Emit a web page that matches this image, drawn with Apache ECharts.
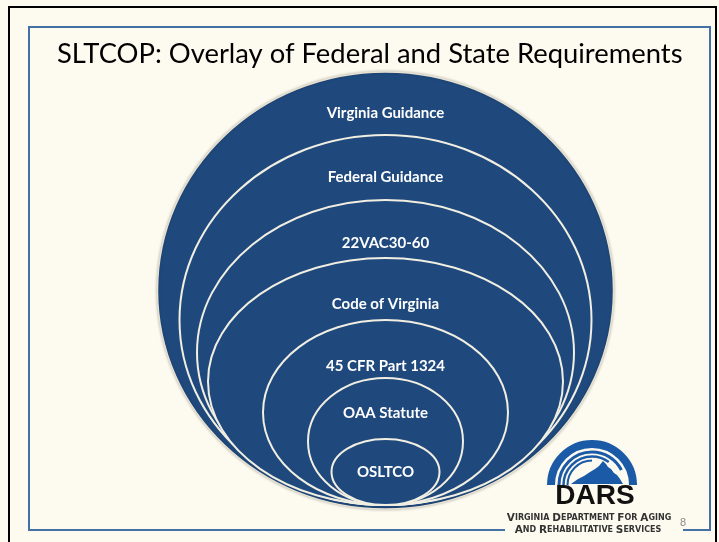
<!DOCTYPE html>
<html><head><meta charset="utf-8">
<script src="https://cdn.jsdelivr.net/npm/echarts@6/dist/echarts.min.js"></script>
<style>html,body{margin:0;padding:0;background:#fdfbef}#c{width:719px;height:542px}</style>
</head><body><div id="c"></div>
<script>
const title = 'SLTCOP: Overlay of Federal and State Requirements';
const rings = ['Virginia Guidance', 'Federal Guidance', '22VAC30-60', 'Code of Virginia', '45 CFR Part 1324', 'OAA Statute', 'OSLTCO'];
const ringWidth = [456, 412, 377, 355, 245, 155, 108];
const ringHeight = [437, 370, 305, 247, 185, 127, 66];
const ringBase = [-4, 0, 0, 0, 0, 0, 0];
const labelAt = [392, 328, 262, 201, 139, 92, 33];

const data = rings.map((r, i) => [i, ringWidth[i], ringHeight[i], ringBase[i], labelAt[i]]);

const chart = echarts.init(document.getElementById('c'));
const BLUE = '#4470a6';
const LOGO = '#1b5aa6';

function sc(txt) {
  return txt.split(' ').map(w => '{b|' + w[0].toUpperCase() + '}{s|' + w.slice(1).toUpperCase() + '}').join('{s| }');
}
const scRich = {
  b: { font: 'bold 10.5px "DejaVu Sans"', fill: '#333' },
  s: { font: 'bold 8px "DejaVu Sans"', fill: '#333' }
};

chart.setOption({
  backgroundColor: '#fdfbef',
  animation: false,
  title: {
    text: title, left: 57, top: 41, padding: 0,
    textStyle: { fontFamily: 'Lato', fontSize: 27.4, fontWeight: 'normal', color: '#000' }
  },
  grid: { left: 0, right: 0, top: 0, bottom: 37 },
  xAxis: { type: 'value', min: -385.5, max: 333.5, show: false },
  yAxis: { type: 'value', min: 0, max: 505, show: false },
  series: [{
    type: 'custom',
    clip: false,
    data: data,
    renderItem: function (params, api) {
      const w = api.value(1), h = api.value(2), b = api.value(3), ly = api.value(4);
      const bot = api.coord([0, b]);
      const top = api.coord([0, b + h]);
      const sz = api.size([w, h]);
      const lp = api.coord([0, ly]);
      const outer = params.dataIndex === 0;
      return {
        type: 'group',
        children: [{
          type: 'ellipse',
          shape: { cx: bot[0], cy: (bot[1] + top[1]) / 2, rx: sz[0] / 2, ry: Math.abs(bot[1] - top[1]) / 2 },
          style: outer ? { fill: '#1f497d', stroke: '#e6e1d2', lineWidth: 1.5, shadowBlur: 3, shadowColor: 'rgba(0,0,0,0.25)' }
                       : { fill: '#1f497d', stroke: '#f1eee2', lineWidth: 2 }
        }, {
          type: 'text',
          x: bot[0], y: lp[1],
          style: {
            text: rings[params.dataIndex], fill: '#ffffff',
            font: 'bold 15px Lato', textAlign: 'center', textVerticalAlign: 'middle'
          }
        }]
      };
    }
  }],
  graphic: [
    { type: 'polyline', shape: { points: [[9, 542], [9, 7], [716, 7], [716, 542]] }, style: { stroke: '#000', lineWidth: 2, fill: null } },
    { type: 'polyline', shape: { points: [[505, 530], [29, 530], [29, 27], [710, 27], [710, 530], [683, 530]] }, style: { stroke: BLUE, lineWidth: 2, fill: null } },
    { type: 'arc', shape: { cx: 592, cy: 485, r: 41, startAngle: Math.PI, endAngle: 2 * Math.PI, clockwise: true }, style: { stroke: LOGO, lineWidth: 8, fill: null } },
    { type: 'arc', shape: { cx: 592, cy: 485, r: 33, startAngle: Math.PI, endAngle: 1.85 * Math.PI, clockwise: true }, style: { stroke: LOGO, lineWidth: 3, fill: null } },
    { type: 'arc', shape: { cx: 592, cy: 485, r: 28.5, startAngle: Math.PI, endAngle: 1.7 * Math.PI, clockwise: true }, style: { stroke: LOGO, lineWidth: 2.5, fill: null } },
    { type: 'arc', shape: { cx: 592, cy: 485, r: 24.5, startAngle: Math.PI, endAngle: 1.5 * Math.PI, clockwise: true }, style: { stroke: LOGO, lineWidth: 2, fill: null } },
    { type: 'polygon', shape: { points: [[571, 484], [578, 479], [584, 476], [590, 472], [595, 469], [599, 466], [603, 461], [606, 464], [608, 467], [611, 469], [614, 473], [617, 475], [620, 479], [623, 484]] }, style: { fill: LOGO } },
    { type: 'text', x: 595, y: 496, style: { text: 'DARS', font: 'bold 28px "Liberation Sans"', fill: '#111', textAlign: 'center', textVerticalAlign: 'middle' } },
    { type: 'text', x: 589, y: 518, style: { text: sc('Virginia Department for Aging'), textAlign: 'center', textVerticalAlign: 'middle', rich: scRich } },
    { type: 'text', x: 588, y: 530, style: { text: sc('and Rehabilitative Services'), textAlign: 'center', textVerticalAlign: 'middle', rich: scRich } },
    { type: 'text', x: 683, y: 523, style: { text: '8', font: '11px "Liberation Sans"', fill: '#8a8a8a', textAlign: 'center', textVerticalAlign: 'middle' } }
  ]
});
</script></body></html>
